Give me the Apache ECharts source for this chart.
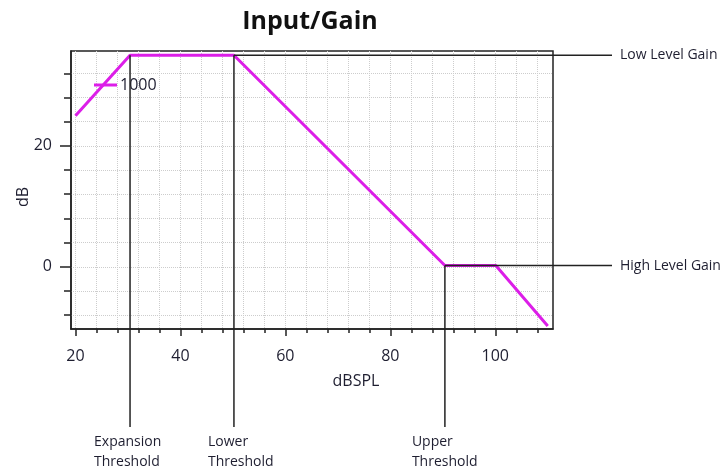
<!DOCTYPE html>
<html>
<head>
    <title>Input/Gain</title>
    <script src="https://cdn.jsdelivr.net/npm/echarts@6.0.0/dist/echarts.min.js"></script>
    <style>
        html, body { margin: 0; padding: 0; background: #fff; }
        #grafico { width: 726px; height: 470px; }
    </style>
</head>
<body>
    <div id="grafico"></div>

    <script>
        // Curva de ganancia (dBSPL -> dB)
        const entrada = [20, 30.4, 50.2, 90.4, 100.1, 110];
        const ganancia = [25, 35, 35, 0.2, 0.2, -9.8];

        // Marcas de los ejes
        const xEtiquetas = [20, 40, 60, 80, 100];
        const xMenores = [20, 24, 28, 32, 36, 40, 44, 48, 52, 56, 60, 64, 68, 72, 76, 80, 84, 88, 92, 96, 100, 104, 108];
        const yEtiquetas = [0, 20];
        const yMenores = [-8, -4, 0, 4, 8, 12, 16, 20, 24, 28, 32];

        // Umbrales (punto de la curva) y ganancias
        const umbrales = ['Expansion\nThreshold', 'Lower\nThreshold', 'Upper\nThreshold'];
        const umbralIndices = [1, 2, 3];
        const niveles = ['Low Level Gain', 'High Level Gain'];
        const nivelIndices = [2, 3];

        const fuente = 'Open Sans';
        const colorTexto = '#1e1e30';
        const colorLinea = '#222';

        const grafico = echarts.init(document.getElementById('grafico'));

        const xMin = 19.15, xMax = 111;
        const yMin = -10.3, yMax = 35.7;

        const opciones = {
            animation: false,
            title: {
                text: 'Input/Gain',
                left: 310,
                textAlign: 'center',
                top: 9,
                padding: 0,
                textStyle: { fontFamily: fuente, fontSize: 25, fontWeight: 'bold', color: '#111' }
            },
            legend: {
                left: 94,
                top: 77,
                padding: 0,
                icon: 'rect',
                itemWidth: 23,
                itemHeight: 3,
                itemGap: 5,
                textStyle: { fontFamily: fuente, fontSize: 16, color: colorTexto, padding: [0, 0, 0, -2] },
                data: ['1000']
            },
            grid: {
                left: 71, top: 51, right: 173, bottom: 141,
                show: true,
                borderColor: colorLinea,
                borderWidth: 1.5
            },
            xAxis: [
                {
                    type: 'value', position: 'bottom', min: xMin, max: xMax,
                    axisLine: { onZero: false, lineStyle: { color: colorLinea, width: 1.5 } },
                    axisTick: { customValues: xMenores, length: 4, lineStyle: { color: colorLinea, width: 1.5 } },
                    axisLabel: { show: false },
                    splitLine: { show: true, lineStyle: { color: '#cdcdcd', type: 'dotted', width: 1 } }
                },
                {
                    type: 'value', position: 'bottom', min: xMin, max: xMax,
                    name: 'dBSPL', nameLocation: 'middle', nameGap: 44, nameMoveOverlap: false,
                    nameTextStyle: { fontFamily: fuente, fontSize: 16, color: colorTexto, padding: [0, 0, 0, 88] },
                    axisLine: { show: false, onZero: false },
                    axisTick: { customValues: xEtiquetas, length: 7, lineStyle: { color: colorLinea, width: 1.5 } },
                    axisLabel: { customValues: xEtiquetas, margin: 19, fontFamily: fuente, fontSize: 16, color: colorTexto },
                    splitLine: { show: false }
                }
            ],
            yAxis: [
                {
                    type: 'value', position: 'left', min: yMin, max: yMax,
                    axisLine: { show: true, onZero: false, lineStyle: { color: colorLinea, width: 1.5 } },
                    axisTick: { show: true, customValues: yMenores, length: 7, lineStyle: { color: colorLinea, width: 1.5 } },
                    axisLabel: { show: false },
                    splitLine: { show: true, lineStyle: { color: '#cdcdcd', type: 'dotted', width: 1 } }
                },
                {
                    type: 'value', position: 'left', min: yMin, max: yMax,
                    name: 'dB', nameLocation: 'middle', nameGap: 40, nameMoveOverlap: false,
                    nameTextStyle: { fontFamily: fuente, fontSize: 16, color: colorTexto, padding: [0, 14, 0, 0] },
                    axisLine: { show: false, onZero: false },
                    axisTick: { show: true, customValues: yEtiquetas, length: 11, lineStyle: { color: colorLinea, width: 1.5 } },
                    axisLabel: { customValues: yEtiquetas, margin: 19, fontFamily: fuente, fontSize: 16, color: colorTexto },
                    splitLine: { show: false }
                }
            ],
            series: [{
                name: '1000',
                type: 'line',
                xAxisIndex: 0,
                yAxisIndex: 0,
                symbol: 'none',
                lineStyle: { color: '#dc1ee8', width: 3 },
                itemStyle: { color: '#dc1ee8' },
                z: 5,
                data: entrada.map((x, i) => [x, ganancia[i]])
            }]
        };

        grafico.setOption(opciones);

        // Líneas de anotación fuera del área del gráfico
        const pos = i => grafico.convertToPixel({ gridIndex: 0 }, [entrada[i], ganancia[i]]);
        const abajo = 427;      // fin de las líneas verticales
        const derecha = 612;    // fin de las líneas horizontales
        const desplazamiento = [36, 26, 33];
        const graficos = [];

        umbralIndices.forEach((idx, k) => {
            const p = pos(idx);
            graficos.push({
                type: 'line', z: 10,
                shape: { x1: p[0], y1: p[1], x2: p[0], y2: abajo },
                style: { stroke: colorLinea, lineWidth: 1.5 }
            });
            graficos.push({
                type: 'text', z: 10,
                x: p[0] - desplazamiento[k], y: 432,
                style: {
                    text: umbrales[k], fill: colorTexto,
                    font: '14px "' + fuente + '"', lineHeight: 20,
                    align: 'left', verticalAlign: 'top'
                }
            });
        });

        nivelIndices.forEach((idx, k) => {
            const p = pos(idx);
            graficos.push({
                type: 'line', z: 10,
                shape: { x1: p[0], y1: p[1], x2: derecha, y2: p[1] },
                style: { stroke: colorLinea, lineWidth: 1.5 }
            });
            graficos.push({
                type: 'text', z: 10,
                x: derecha + 8, y: p[1],
                style: {
                    text: niveles[k], fill: colorTexto,
                    font: '14px "' + fuente + '"',
                    align: 'left', verticalAlign: 'middle'
                }
            });
        });

        grafico.setOption({ graphic: graficos });
    </script>
</body>
</html>
